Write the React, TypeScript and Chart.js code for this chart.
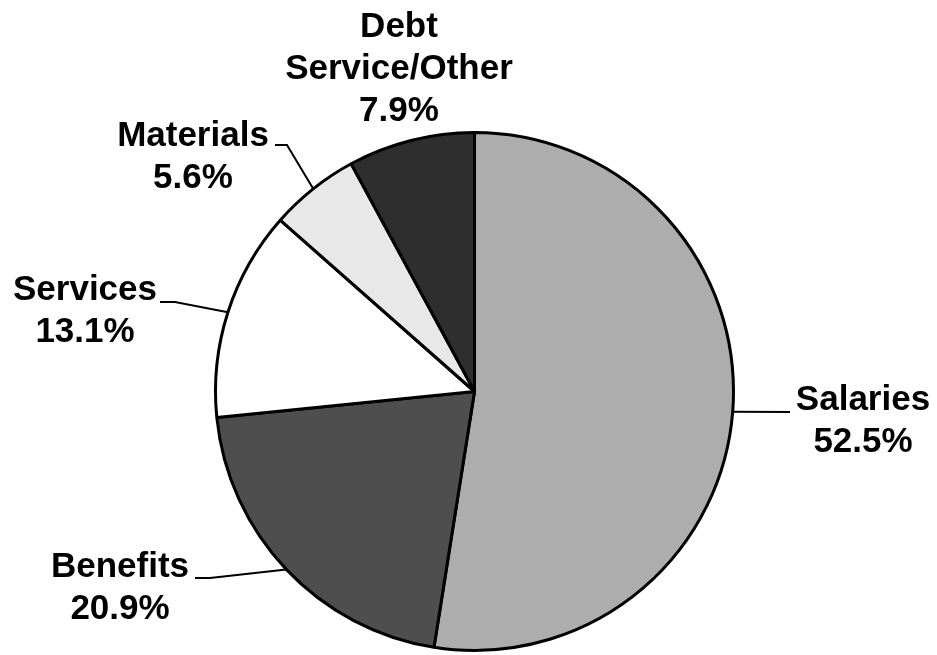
import React, { useEffect, useRef } from "react";
import { Chart, registerables } from "chart.js";

Chart.register(...registerables);

// ---- data ----
const categories = ["Salaries", "Benefits", "Services", "Materials", "Debt Service/Other"];
const values = [52.5, 20.9, 13.1, 5.6, 7.9];
const labelNameLines = [["Salaries"], ["Benefits"], ["Services"], ["Materials"], ["Debt", "Service/Other"]];

// ---- styles / layout ----
const sliceColors = ["#adadad", "#4e4e4e", "#ffffff", "#e8e8e8", "#2e2e2e"];
const labelLayout: { x: number; y: number; leader: number[][] | null }[] = [
  { x: 863, y: 410, leader: [[790, 412]] },
  { x: 120, y: 577, leader: [[195, 578], [210, 578]] },
  { x: 85, y: 300, leader: [[160, 302], [175, 302]] },
  { x: 193, y: 146, leader: [[275, 145], [287, 145]] },
  { x: 399, y: 37, leader: null },
];
const LINE_H = 42;
const FONT = "bold 35px 'Liberation Sans', Arial, sans-serif";

const labelPlugin = {
  id: "pieLabels",
  afterDatasetsDraw(chart: any) {
    const ctx = chart.ctx;
    const meta = chart.getDatasetMeta(0);
    ctx.save();
    meta.data.forEach((arc: any, i: number) => {
      const lay = labelLayout[i];
      const p = arc.getProps(["x", "y", "startAngle", "endAngle", "outerRadius"], true);
      const mid = (p.startAngle + p.endAngle) / 2;
      const ex = p.x + Math.cos(mid) * p.outerRadius;
      const ey = p.y + Math.sin(mid) * p.outerRadius;
      if (lay.leader) {
        ctx.beginPath();
        ctx.strokeStyle = "#000";
        ctx.lineWidth = 2;
        ctx.moveTo(lay.leader[0][0], lay.leader[0][1]);
        for (let k = 1; k < lay.leader.length; k++) ctx.lineTo(lay.leader[k][0], lay.leader[k][1]);
        ctx.lineTo(ex, ey);
        ctx.stroke();
      }
      const lines = [...labelNameLines[i], `${values[i].toFixed(1)}%`];
      ctx.fillStyle = "#000";
      ctx.font = FONT;
      ctx.textAlign = "center";
      ctx.textBaseline = "alphabetic";
      lines.forEach((t, j) => ctx.fillText(t, lay.x, lay.y + j * LINE_H));
    });
    ctx.restore();
  },
};

export default function App() {
  const ref = useRef<HTMLCanvasElement>(null);
  useEffect(() => {
    if (!ref.current) return;
    const chart = new Chart(ref.current, {
      type: "pie",
      data: {
        labels: categories,
        datasets: [
          {
            data: values,
            backgroundColor: sliceColors,
            borderColor: "#000",
            borderWidth: 3,
          },
        ],
      },
      options: {
        animation: false,
        responsive: false,
        maintainAspectRatio: false,
        layout: { padding: { left: 214, right: 202, top: 131, bottom: 3 } },
        plugins: {
          legend: { display: false },
          tooltip: { enabled: false },
          title: { display: false },
        },
      },
      plugins: [labelPlugin],
    });
    return () => chart.destroy();
  }, []);
  return (
    <div style={{ position: "fixed", left: 0, top: 0, width: 937, height: 655, background: "#fff" }}>
      <canvas ref={ref} width={937} height={655} />
    </div>
  );
}
